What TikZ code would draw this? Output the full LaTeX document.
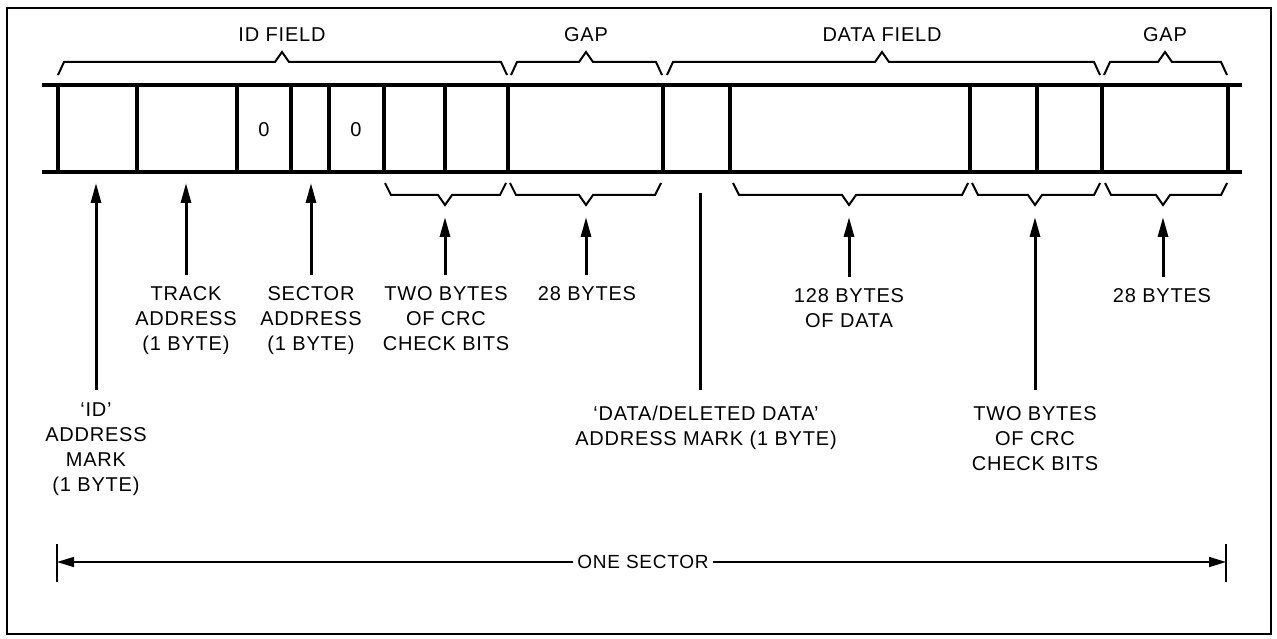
\documentclass[tikz,border=0pt]{standalone}
\usepackage{fontspec}
\setmainfont{Liberation Sans}[LetterSpace=4]
\usetikzlibrary{arrows.meta}

% angular braces above and below the track
\newcommand\upperbrace[3]{%
  \draw[bracepen] (#1,75) -- (#1+6,62) -- (#3-7,62) -- (#3,52) -- (#3+7,62) -- (#2-6,62) -- (#2,75);}
\newcommand\lowerbrace[3]{%
  \draw[bracepen] (#1,183) -- (#1+6,195) -- (#3-7,195) -- (#3,205) -- (#3+7,195) -- (#2-6,195) -- (#2,183);}

\begin{document}
\begin{tikzpicture}[x=1pt,y=-1pt,
  frame/.style={line width=2.5pt},
  track/.style={line width=3.6pt},
  cellsep/.style={line width=3.2pt},
  bracepen/.style={line width=2pt, line join=miter},
  lbl/.style={font=\fontsize{20}{25}\selectfont, align=center, inner sep=0pt},
  toplbl/.style={font=\fontsize{20}{25}\selectfont, inner sep=0pt},
  uparrow/.style={line width=3pt, -{Triangle[length=20pt,width=10pt]}},
  stem/.style={line width=3pt},
  spanarrow/.style={line width=1.5pt, -{Triangle[length=17pt,width=10pt]}},
  spanbar/.style={line width=2.5pt}]

\useasboundingbox (0,0) rectangle (1277,639);
\draw[frame] (7,8) rectangle (1271,634);

% the recorded track of one sector
\coordinate (trkTL) at (42,85);  \coordinate (trkTR) at (1242,85);
\coordinate (trkBL) at (42,172); \coordinate (trkBR) at (1242,172);
\draw[track] (trkTL) -- (trkTR);
\draw[track] (trkBL) -- (trkBR);
\foreach \x in {58,137,237,291,329,384,445,508,663,730,970,1037,1102,1228}
  \draw[cellsep] (\x,85) -- (\x,172);

\node[toplbl] (zeroA) at (264,130) {0};
\node[toplbl] (zeroB) at (356,130) {0};

% field headings
\node[toplbl] (idField)   at (282,35) {ID FIELD};
\node[toplbl] (gapA)      at (586,35) {GAP};
\node[toplbl] (dataField) at (882,35) {DATA FIELD};
\node[toplbl] (gapB)      at (1165,35) {GAP};

\upperbrace{58}{507}{282}
\upperbrace{511}{662}{586}
\upperbrace{667}{1100}{882}
\upperbrace{1104}{1227}{1165}

\lowerbrace{385}{506}{445}
\lowerbrace{510}{661}{586}
\lowerbrace{733}{968}{849}
\lowerbrace{972}{1100}{1035}
\lowerbrace{1105}{1227}{1163}

% arrow tips
\coordinate (tipIdMark) at (96,183);
\coordinate (tipTrack)  at (186,183);
\coordinate (tipSector) at (311,183);
\coordinate (tipCrcA)   at (445,217);
\coordinate (tipGapA)   at (586,217);
\coordinate (tipData)   at (849,217);
\coordinate (tipCrcB)   at (1035,217);
\coordinate (tipGapB)   at (1163,217);
\coordinate (dmTop)     at (700,193);

% labels
\node[lbl, anchor=north] (idMark)  at (96,403)  {`ID'\\ADDRESS\\MARK\\(1 BYTE)};
\node[lbl, anchor=north] (trackA)  at (186,286) {TRACK\\ADDRESS\\(1 BYTE)};
\node[lbl, anchor=north] (sectA)   at (311,286) {SECTOR\\ADDRESS\\(1 BYTE)};
\node[lbl, anchor=north] (crcA)    at (446,286) {TWO BYTES\\OF CRC\\CHECK BITS};
\node[lbl, anchor=north] (gapAB)   at (587,286) {28 BYTES};
\node[lbl, anchor=north] (dataB)   at (849,288) {128 BYTES\\OF DATA};
\node[lbl, anchor=north] (gapBB)   at (1162,288) {28 BYTES};
\node[lbl, anchor=north] (dataMark) at (706,406) {`DATA/DELETED DATA'\\ADDRESS MARK (1 BYTE)};
\node[lbl, anchor=north] (crcB)    at (1035,406) {TWO BYTES\\OF CRC\\CHECK BITS};

% pointers
\draw[uparrow] ([yshift=13pt]idMark.north) -- (tipIdMark);
\draw[uparrow] ([yshift=11pt]trackA.north) -- (tipTrack);
\draw[uparrow] ([yshift=11pt]sectA.north) -- (tipSector);
\draw[uparrow] ([yshift=11pt]crcA.north -| tipCrcA) -- (tipCrcA);
\draw[uparrow] ([yshift=11pt]gapAB.north -| tipGapA) -- (tipGapA);
\draw[uparrow] ([yshift=11pt]dataB.north) -- (tipData);
\draw[uparrow] ([yshift=11pt]gapBB.north -| tipGapB) -- (tipGapB);
\draw[uparrow] ([yshift=16pt]crcB.north) -- (tipCrcB);
\draw[stem] (dmTop) -- ([yshift=16pt]dmTop |- dataMark.north);

% extent of one sector
\node[toplbl, inner xsep=4pt, font=\fontsize{19}{22}\selectfont] (oneSector) at (643,562) {ONE SECTOR};
\coordinate (spanL) at (57,562);   \coordinate (spanR) at (1226,562);
\coordinate (spanLt) at (57,544);  \coordinate (spanLb) at (57,582);
\coordinate (spanRt) at (1226,544); \coordinate (spanRb) at (1226,582);
\draw[spanbar] (spanLt) -- (spanLb);
\draw[spanbar] (spanRt) -- (spanRb);
\draw[spanarrow] (oneSector.west) -- (spanL);
\draw[spanarrow] (oneSector.east) -- (spanR);
\end{tikzpicture}
\end{document}
